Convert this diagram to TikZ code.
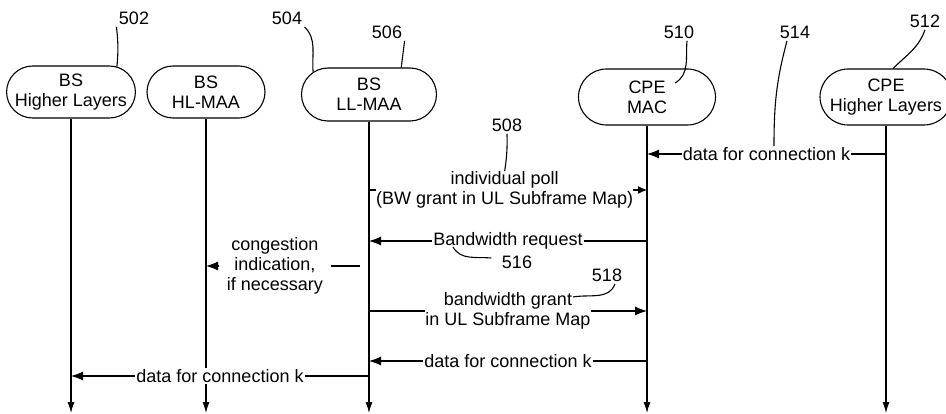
\documentclass[tikz,border=0pt]{standalone}
\usepackage{fontspec}
\setmainfont{Liberation Sans}
\usetikzlibrary{shapes.misc,arrows.meta}
\tikzset{
  entity/.style={draw, rounded rectangle, align=center, minimum height=52pt, inner sep=1pt},
  msg/.style={fill=white, align=center, inner sep=1pt},
  life/.style={-{Latex[length=11pt,width=7pt]}},
}
\begin{document}
\begin{tikzpicture}[x=1pt, y=1pt, line width=1.1pt, font=\fontsize{18}{20}\selectfont, line join=round, >={Latex[length=12pt,width=9pt]}]
	\useasboundingbox (0,0) rectangle (946,-414);
	% entities
	\node[entity, minimum width=121pt] (hl) at (71,-92) {BS\\Higher Layers};
	\node[entity, minimum width=120pt] (hlmaa) at (206,-92) {BS\\HL-MAA};
	\node[entity, minimum width=137pt, minimum height=53pt] (llmaa) at (369,-94.5) {BS\\LL-MAA};
	\node[entity, minimum width=139pt, minimum height=56pt] (mac) at (647,-97) {CPE\\MAC};
	\node[entity, minimum width=134pt, minimum height=56pt] (cpehl) at (886,-97) {CPE\\Higher Layers};
	% lifelines
	\coordinate (end) at (0,-413);
	\foreach \e in {hl,hlmaa,llmaa,mac,cpehl}
		\draw[life] (\e.south) -- (\e |- end);
	% messages
	\foreach \r/\y in {r1/154,r2/190,r3/241,r4/266,r5/311,r6/361,r7/376}
		\coordinate (\r) at (0,-\y);
	\draw[->] (cpehl |- r1) -- node[msg] {data for connection k} (mac |- r1);
	\draw[-{Latex[length=9pt,width=8pt]}] (llmaa |- r2) -- node[msg, inner sep=0pt, pos=.488] (poll) {individual poll\\(BW grant in UL Subframe Map)} (mac |- r2);
	\draw[->] (mac |- r3) -- node[msg] (req) {Bandwidth request} (llmaa |- r3);
	\draw[->, shorten <=9pt] (llmaa |- r4) -- node[msg, pos=.577, minimum width=112pt] {congestion\\indication,\\if necessary} (hlmaa |- r4);
	\draw[->] (llmaa |- r5) -- node[msg, inner sep=0pt] (grant) {bandwidth grant\\in UL Subframe Map} (mac |- r5);
	\draw[->] (mac |- r6) -- node[msg] {data for connection k} (llmaa |- r6);
	\draw[->] (llmaa |- r7) -- node[msg] {data for connection k} (hl |- r7);
	% reference numerals
	\foreach \n/\x/\y in {502/134/18, 504/287/18, 506/387/32, 508/507/125, 510/679/32, 512/925/21, 514/795/32, 516/517/262, 518/607/275}
		\node[inner sep=2pt] (n\n) at (\x,-\y) {\n};
	\coordinate (p510) at (675,-83);
	\coordinate (p514) at (774,-146);
	\coordinate (p516) at (453,-247);
	\coordinate (p518) at (573,-297);
	\draw (n502.south west) to[bend left=6] (hl.29);
	\draw (n504.south east) to[out=-45, in=95] (llmaa.158);
	\draw (n506.south east) to (llmaa.40);
	\draw (n508.south) to[bend left=5] (poll.north);
	\draw ([xshift=8pt]n510.south) to[out=-95, in=30] (p510);
	\draw ([xshift=-8pt]n514.south) to[out=-105, in=90] (p514);
	\draw (n512.south) to[out=-110, in=45] (cpehl.76);
	\draw ([xshift=-8pt, yshift=4pt]n516.west) to[out=175, in=-60] (p516);
	\draw ([xshift=8pt]n518.south) to[out=-110, in=10] (p518);
\end{tikzpicture}
\end{document}
